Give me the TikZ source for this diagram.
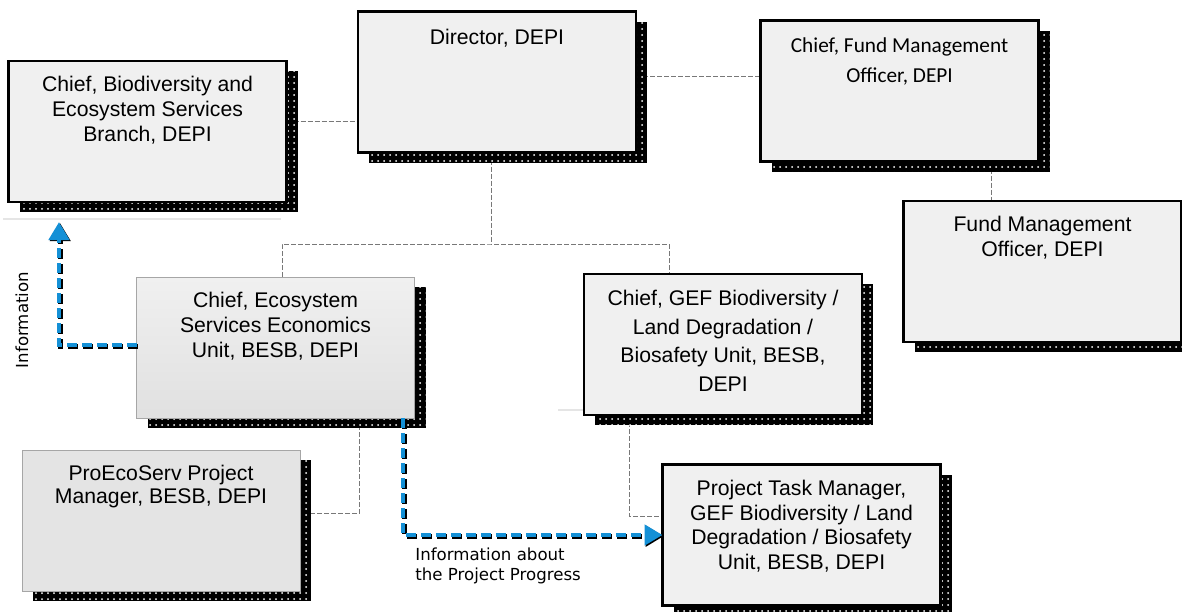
\documentclass[tikz,border=0pt]{standalone}
\usepackage{fontspec}
\setmainfont{Liberation Sans}
\newfontfamily\calibrifont{Carlito}
\newfontfamily\notefont{DejaVu Sans}
\usetikzlibrary{arrows.meta,shadows,patterns,backgrounds}
\definecolor{infoblue}{RGB}{20,144,214}
\definecolor{boxgray}{RGB}{240,240,240}
\definecolor{linkgray}{RGB}{120,120,120}

\begin{document}
\begin{tikzpicture}[x=0.5pt,y=-0.5pt,
    orgbox/.style={draw=black, line width=1.25pt, fill=boxgray, minimum width=139pt,
      minimum height=70.5pt, inner sep=0pt, outer sep=0pt,
      general shadow={fill=black, shadow xshift=5.5pt, shadow yshift=-5pt},
      general shadow={pattern=dots, pattern color=white, shadow xshift=5.5pt, shadow yshift=-5pt}},
    softbox/.style={orgbox, draw=gray!70, line width=0.5pt},
    boxtext/.style={anchor=north, align=center, inner sep=0pt, yshift=-7.5pt,
      font=\fontsize{10.6pt}{12.5pt}\selectfont},
    link/.style={draw=linkgray, line width=0.5pt, dash pattern=on 2.5pt off 1pt},
    info/.style={draw=infoblue, line width=2.3pt, dash pattern=on 5pt off 2.5pt,
      -{Triangle[length=9pt,width=10pt]},
      preaction={draw=black, line width=2.3pt, dash pattern=on 5pt off 2.5pt,
        transform canvas={shift={(0.6pt,-0.6pt)}}}},
    note/.style={font=\notefont\fontsize{8.3pt}{10pt}\selectfont, inner sep=0pt},
    ghost/.style={draw=gray!20, line width=1pt}]
    \useasboundingbox (0,0) rectangle (1182,611);

    % boxes
    \node[orgbox] (besb) at (147.5,131.5) {};
    \node[boxtext] (besb-t) at (besb.north) {Chief, Biodiversity and\\Ecosystem Services\\Branch, DEPI};
    \node[orgbox] (dir) at (497,82) {};
    \node[boxtext, yshift=-1pt] (dir-t) at (dir.north) {Director, DEPI};
    \node[orgbox] (fund) at (899.5,91) {};
    \node[boxtext, yshift=-1pt, font=\calibrifont\fontsize{10.65pt}{15pt}\selectfont] (fund-t) at (fund.north) {Chief, Fund Management\\Officer, DEPI};
    \node[orgbox] (fundoff) at (1042.5,271.5) {};
    \node[boxtext] (fundoff-t) at (fundoff.north) {Fund Management\\Officer, DEPI};
    \node[softbox, top color=boxgray, bottom color=gray!24] (eseu) at (275.5,347.5) {};
    \node[boxtext] (eseu-t) at (eseu.north) {Chief, Ecosystem\\Services Economics\\Unit, BESB, DEPI};
    \node[orgbox] (gef) at (723,344.5) {};
    \node[boxtext, yshift=-0.5pt, font=\fontsize{10.6pt}{14.3pt}\selectfont] (gef-t) at (gef.north) {Chief, GEF Biodiversity /\\Land Degradation /\\Biosafety Unit, BESB,\\DEPI};
    \node[softbox, fill=gray!21] (proeco) at (161,520.5) {};
    \node[boxtext, font=\fontsize{10.6pt}{11.6pt}\selectfont] (proeco-t) at (proeco.north) {ProEcoServ Project\\Manager, BESB, DEPI};
    \node[orgbox] (ptm) at (801.5,535) {};
    \node[boxtext, font=\fontsize{10.6pt}{12.4pt}\selectfont] (ptm-t) at (ptm.north) {Project Task Manager,\\GEF Biodiversity / Land\\Degradation / Biosafety\\Unit, BESB, DEPI};

    % reporting lines
    \begin{scope}[on background layer]
        \draw[ghost] (3,219) -- (281,219);
        \draw[ghost] (558,410) -- (584,410);
        \coordinate (besb-r) at ([yshift=5.25pt]besb.east);
        \coordinate (dir-r) at ([yshift=3pt]dir.east);
        \coordinate (dir-b) at ([xshift=-3pt]dir.south);
        \coordinate (bus) at (491,244);
        \coordinate (eseu-top) at ([xshift=3.25pt]eseu.north);
        \coordinate (gef-top) at ([xshift=-27pt]gef.north);
        \coordinate (fund-b) at ([xshift=45.75pt]fund.south);
        \coordinate (eseu-low) at ([xshift=41.75pt]eseu.south);
        \coordinate (proeco-r) at ([yshift=3.5pt]proeco.east);
        \coordinate (gef-b) at ([xshift=-47pt]gef.south);
        \coordinate (ptm-l) at ([yshift=9.5pt]ptm.west);
        \draw[link] (besb-r) -- (besb-r -| dir.west);
        \draw[link] (dir-r) -- (dir-r -| fund.west);
        \draw[link] (dir-b) -- (bus);
        \draw[link] (eseu-top) |- (bus) -| (gef-top);
        \draw[link] (fund-b) -- (fund-b |- fundoff.north);
        \draw[link] (eseu-low) |- (proeco-r);
        \draw[link] (gef-b) |- (ptm-l);
    \end{scope}

    % information flows
    \coordinate (eseu-l) at ([yshift=1.25pt]eseu.west);
    \coordinate (besb-tip) at ([xshift=-44.25pt,yshift=-10pt]besb.south);
    \coordinate (eseu-b) at ([xshift=63.75pt]eseu.south);
    \draw[info] (eseu-l) -| (besb-tip);
    \draw[info] (eseu-b) |- (ptm.west);
    \node[note, rotate=90] (info-l) at (22,320) {Information};
    \node[note, anchor=north west, align=left] (progress-l) at (415,547) {Information about\\the Project Progress};
\end{tikzpicture}
\end{document}
